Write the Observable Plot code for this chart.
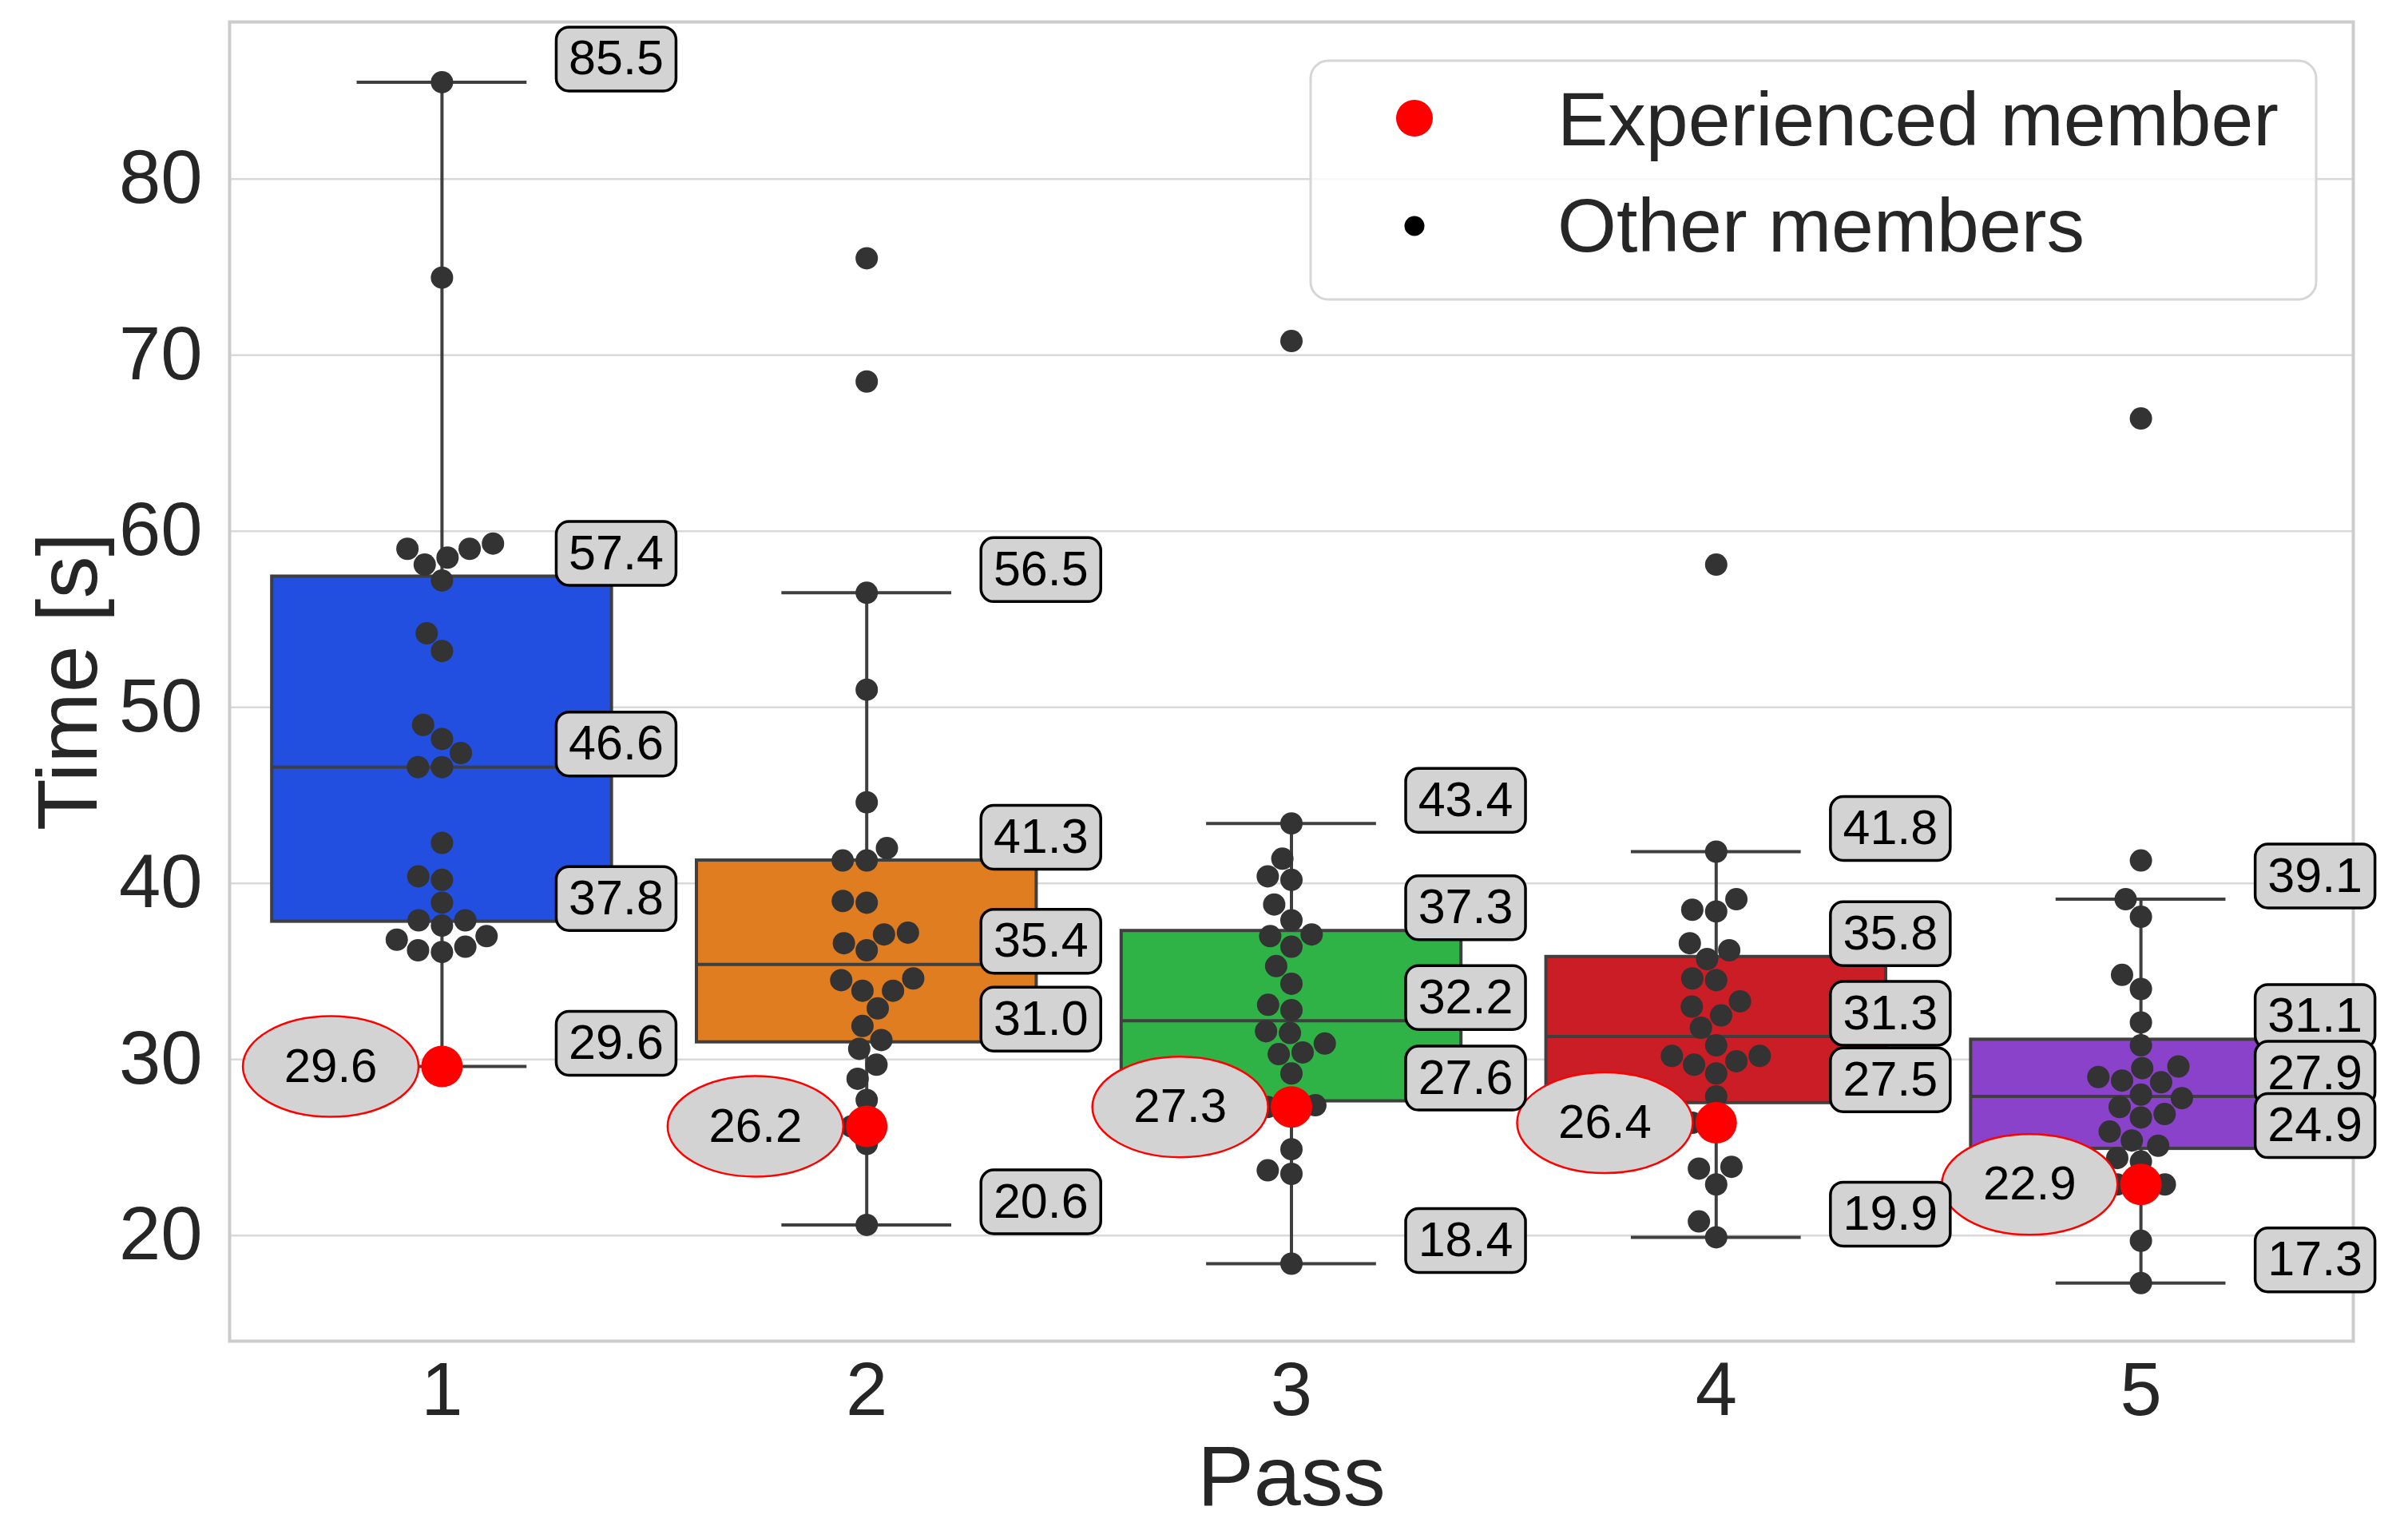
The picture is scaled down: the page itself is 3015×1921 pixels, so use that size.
<!DOCTYPE html>
<html>
<head>
<meta charset="utf-8">
<script src="https://cdn.jsdelivr.net/npm/d3@7"></script>
<script src="https://cdn.jsdelivr.net/npm/@observablehq/plot@0.6"></script>
<style>
  html, body { margin: 0; padding: 0; background: #fff; overflow: hidden; }
  svg { display: block; }
</style>
</head>
<body>
<div id="chart"></div>
<script>
// ---------------- data ----------------
const passes = [1, 2, 3, 4, 5];
const experienced = [29.6, 26.2, 27.3, 26.4, 22.9];
const others1 = [85.5, 74.4, 59.0, 58.1, 58.5, 59.0, 59.3, 57.2, 54.2, 53.2, 49.0, 48.2, 47.4, 46.6, 46.6, 42.3, 40.4, 40.2, 38.9, 37.9, 37.6, 37.9, 36.8, 36.2, 36.1, 36.4, 37.0];
const others2 = [75.5, 68.5, 56.5, 51.0, 44.6, 42.0, 41.3, 41.3, 39.0, 38.9, 37.1, 37.2, 36.6, 36.2, 34.6, 33.9, 33.9, 34.5, 32.9, 31.9, 31.1, 30.6, 29.7, 28.9, 27.7, 25.2, 20.6];
const others3 = [70.8, 43.4, 41.4, 40.4, 40.2, 38.8, 37.9, 37.0, 37.1, 36.4, 35.3, 34.3, 32.8, 33.1, 31.6, 31.5, 30.9, 30.3, 30.4, 29.2, 27.4, 27.7, 27.3, 24.9, 23.7, 23.5, 18.4];
const others4 = [58.1, 41.8, 39.1, 38.5, 38.4, 36.6, 36.2, 35.7, 34.6, 34.5, 33.3, 33.0, 32.5, 31.8, 30.8, 30.2, 29.7, 29.2, 29.9, 30.2, 27.9, 26.3, 23.8, 23.9, 22.9, 20.8, 19.9];
const others5 = [66.4, 41.3, 39.1, 38.1, 34.8, 34.0, 32.1, 30.8, 29.5, 29.6, 28.8, 28.7, 29.0, 28.0, 27.8, 26.9, 26.7, 27.3, 25.9, 25.4, 25.1, 24.2, 24.4, 22.9, 22.8, 19.7, 17.3];
const othersByPass = [others1, others2, others3, others4, others5];
const boxColors = ["#224fdf", "#df7d20", "#30b346", "#cb1d25", "#8a42cb"];
const yTicks = [20, 30, 40, 50, 60, 70, 80];
const legendLabels = ["Experienced member", "Other members"];
const xLabel = "Pass";
const yLabel = "Time [s]";

// ---------------- layout ----------------
const W = 3015, H = 1921;
const mL = 287, mR = 69, mT = 27, mB = 242;
const yDomain = [14.0, 88.92];
const xDomain = [0.5, 5.5];
const pxPerY = (H - mT - mB) / (yDomain[1] - yDomain[0]);
const pxPerCat = (W - mL - mR) / (xDomain[1] - xDomain[0]);
const FONT = "'Liberation Sans', Arial, Helvetica, sans-serif";
const R = 14.3; // swarm point radius (px) used for layout

// seaborn-like beeswarm in pixel space
function swarm(values) {
  const pts = values.map((v, i) => ({v, y: v * pxPerY, i})).sort((a, b) => a.y - b.y);
  const placed = [];
  for (const p of pts) {
    const nb = [];
    for (let k = placed.length - 1; k >= 0; k--) {
      if (p.y - placed[k].y < 2 * R) nb.unshift(placed[k]); else break;
    }
    const cands = [0];
    let leftFirst = true;
    for (const q of nb) {
      const dy = p.y - q.y;
      const dx = Math.sqrt(Math.max(4 * R * R - dy * dy, 0)) * 1.05;
      if (leftFirst) cands.push(q.x - dx, q.x + dx); else cands.push(q.x + dx, q.x - dx);
      leftFirst = !leftFirst;
    }
    const order = cands.map((x, j) => ({x, j})).sort((a, b) => (Math.abs(a.x) - Math.abs(b.x)) || (a.j - b.j));
    let chosen = 0;
    for (const c of order) {
      if (nb.every(q => (c.x - q.x) ** 2 + (p.y - q.y) ** 2 >= 4 * R * R - 1e-6)) { chosen = c.x; break; }
    }
    p.x = chosen;
    placed.push(p);
  }
  return pts;
}

const swarmData = passes.flatMap((p, k) =>
  swarm([...othersByPass[k], experienced[k]]).map(d => ({pass: p, v: d.v, xs: p + d.x / pxPerCat}))
);

const stats = passes.map((p, k) => {
  const all = [...othersByPass[k], experienced[k]].sort(d3.ascending);
  const q1 = d3.quantileSorted(all, 0.25);
  const med = d3.quantileSorted(all, 0.5);
  const q3 = d3.quantileSorted(all, 0.75);
  const iqr = q3 - q1;
  const lo = d3.min(all.filter(v => v >= q1 - 1.5 * iqr));
  const hi = d3.max(all.filter(v => v <= q3 + 1.5 * iqr));
  return {pass: p, q1, med, q3, lo, hi, color: boxColors[k]};
});

const expData = passes.map((p, k) => ({pass: p, v: experienced[k]}));
const labelData = stats.flatMap(s => [s.hi, s.q3, s.med, s.q1, s.lo].map(v => ({pass: s.pass, v})));

// custom symbols (pixel sized)
const ellipseSymbol = {
  draw(ctx) {
    const rx = 110, ry = 63, k = 0.5523;
    ctx.moveTo(rx, 0);
    ctx.bezierCurveTo(rx, ry * k, rx * k, ry, 0, ry);
    ctx.bezierCurveTo(-rx * k, ry, -rx, ry * k, -rx, 0);
    ctx.bezierCurveTo(-rx, -ry * k, -rx * k, -ry, 0, -ry);
    ctx.bezierCurveTo(rx * k, -ry, rx, -ry * k, rx, 0);
    ctx.closePath();
  }
};
const labelBoxSymbol = {
  draw(ctx) {
    const w = 150, h = 80, r = 16;
    const x0 = -w / 2, x1 = w / 2, y0 = -h / 2, y1 = h / 2;
    ctx.moveTo(x0 + r, y0);
    ctx.lineTo(x1 - r, y0);
    ctx.arcTo(x1, y0, x1, y0 + r, r);
    ctx.lineTo(x1, y1 - r);
    ctx.arcTo(x1, y1, x1 - r, y1, r);
    ctx.lineTo(x0 + r, y1);
    ctx.arcTo(x0, y1, x0, y1 - r, r);
    ctx.lineTo(x0, y0 + r);
    ctx.arcTo(x0, y0, x0 + r, y0, r);
    ctx.closePath();
  }
};

const LINE = "#3f3f3f";
const LABEL_DX = 0.41 * pxPerCat;
const LABEL_DY = -29;
const ELL_DX = -0.262 * pxPerCat;

const chart = Plot.plot({
  width: W,
  height: H,
  marginLeft: mL,
  marginRight: mR,
  marginTop: mT,
  marginBottom: mB,
  style: {fontFamily: FONT, color: "#262626", background: "#fff"},
  x: {domain: xDomain},
  y: {domain: yDomain},
  color: {type: "identity"},
  marks: [
    Plot.ruleY(yTicks, {stroke: "#d9d9d9", strokeWidth: 2.5}),
    Plot.frame({stroke: "#cccccc", strokeWidth: 4}),
    Plot.ruleX(stats, {x: "pass", y1: "q3", y2: "hi", stroke: LINE, strokeWidth: 4}),
    Plot.ruleX(stats, {x: "pass", y1: "lo", y2: "q1", stroke: LINE, strokeWidth: 4}),
    Plot.ruleY(stats, {y: "hi", x1: d => d.pass - 0.2, x2: d => d.pass + 0.2, stroke: LINE, strokeWidth: 4}),
    Plot.ruleY(stats, {y: "lo", x1: d => d.pass - 0.2, x2: d => d.pass + 0.2, stroke: LINE, strokeWidth: 4}),
    Plot.rect(stats, {x1: d => d.pass - 0.4, x2: d => d.pass + 0.4, y1: "q1", y2: "q3", fill: "color", stroke: LINE, strokeWidth: 4}),
    Plot.ruleY(stats, {y: "med", x1: d => d.pass - 0.4, x2: d => d.pass + 0.4, stroke: LINE, strokeWidth: 4}),
    Plot.dot(swarmData, {x: "xs", y: "v", r: 14, fill: "#333333", stroke: "none"}),
    Plot.dot(expData, {x: "pass", y: "v", r: 60, symbol: ellipseSymbol, fill: "#d3d3d3", stroke: "red", strokeWidth: 2.5, dx: ELL_DX}),
    Plot.text(expData, {x: "pass", y: "v", text: d => d.v.toFixed(1), dx: ELL_DX, fontSize: 60, fill: "black", fontFamily: FONT}),
    Plot.dot(expData, {x: "pass", y: "v", r: 26, fill: "red", stroke: "none"}),
    Plot.dot(labelData, {x: "pass", y: "v", r: 40, symbol: labelBoxSymbol, fill: "#d3d3d3", stroke: "black", strokeWidth: 3.5, dx: LABEL_DX, dy: LABEL_DY}),
    Plot.text(labelData, {x: "pass", y: "v", text: d => d.v.toFixed(1), dx: LABEL_DX, dy: LABEL_DY, fontSize: 61, fill: "black", fontFamily: FONT}),
    Plot.axisY(yTicks, {tickSize: 0, tickPadding: 34, fontSize: 94, label: null, fontFamily: FONT}),
    Plot.axisX(passes, {tickSize: 0, tickPadding: 26, fontSize: 94, label: null, tickFormat: d => String(d), fontFamily: FONT}),
    Plot.text([yLabel], {text: d => d, frameAnchor: "left", textAnchor: "middle", lineAnchor: "middle", dx: -200, rotate: -90, fontSize: 106, fill: "#262626", fontFamily: FONT}),
    Plot.text([xLabel], {text: d => d, frameAnchor: "bottom", textAnchor: "middle", lineAnchor: "middle", dy: 172, fontSize: 106, fill: "#262626", fontFamily: FONT})
  ]
});

document.getElementById("chart").appendChild(chart);

// ---------------- legend (inside the axes, upper right) ----------------
const svg = d3.select(chart);
const lg = svg.append("g").attr("font-family", FONT).attr("text-anchor", "start");
lg.append("rect")
  .attr("x", 1641).attr("y", 76).attr("width", 1259).attr("height", 299)
  .attr("rx", 22).attr("ry", 22)
  .attr("fill", "rgba(255,255,255,0.8)")
  .attr("stroke", "#d6d6d6").attr("stroke-width", 3);
const legendStyles = [{fill: "red", r: 23, cy: 148, base: 182}, {fill: "black", r: 12.5, cy: 283, base: 315}];
legendLabels.forEach((label, i) => {
  const s = legendStyles[i];
  lg.append("circle").attr("cx", 1771).attr("cy", s.cy).attr("r", s.r).attr("fill", s.fill);
  lg.append("text").attr("x", 1950).attr("y", s.base).attr("font-size", 95)
    .attr("text-anchor", "start").attr("fill", "#262626").text(label);
});
</script>
</body>
</html>
